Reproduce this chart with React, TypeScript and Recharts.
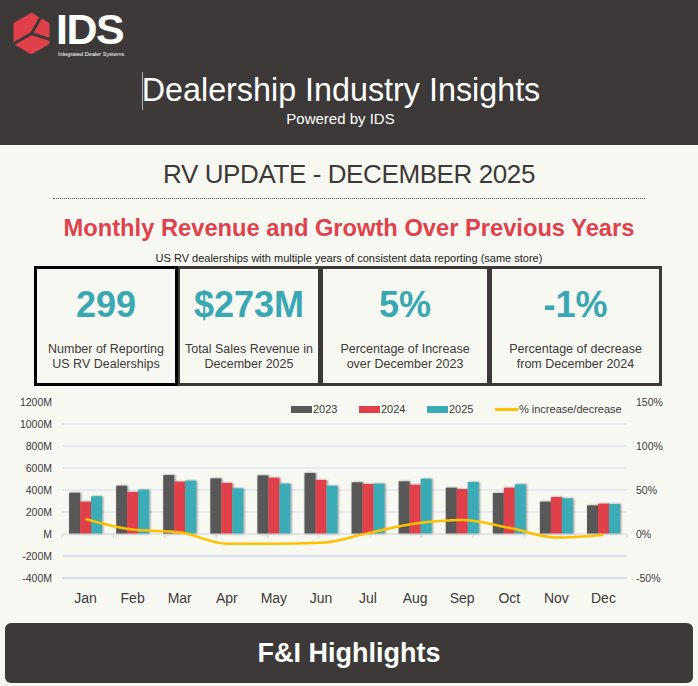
import React from 'react';
import {
  ComposedChart,
  Bar,
  Line,
  XAxis,
  YAxis,
  CartesianGrid,
  ReferenceLine,
  Legend,
} from 'recharts';

// ---------- data ----------
const months = ['Jan', 'Feb', 'Mar', 'Apr', 'May', 'Jun', 'Jul', 'Aug', 'Sep', 'Oct', 'Nov', 'Dec'];
const revenue2023 = [375, 439, 536, 506, 533, 555, 470, 479, 421, 373, 294, 260];
const revenue2024 = [294, 382, 476, 464, 512, 491, 455, 448, 409, 421, 336, 276];
const revenue2025 = [343, 403, 485, 415, 458, 439, 458, 503, 473, 452, 324, 273];
const pctChange = [17, 5, 2, -11, -11, -10, 1, 12, 16, 7, -4, -1];

const leftTicks = [-400, -200, 0, 200, 400, 600, 800, 1000, 1200];
const rightTicks = [-50, 0, 50, 100, 150];
const gridValues = [200, 400, 600, 800, 1000];
const negativeGridValues = [-200, -400];
const boundaryTicks = [0, 1, 2, 3, 4, 5, 6, 7, 8, 9, 10, 11, 12];

const seriesNames = ['2023', '2024', '2025', '% increase/decrease'];

const kpiValues = ['299', '$273M', '5%', '-1%'];
const kpiLabels = [
  ['Number of Reporting', 'US RV Dealerships'],
  ['Total Sales Revenue in', 'December 2025'],
  ['Percentage of Increase', 'over December 2023'],
  ['Percentage of decrease', 'from December 2024'],
];

const chartData = months.map((m, i) => ({
  month: m,
  y2023: revenue2023[i],
  y2024: revenue2024[i],
  y2025: revenue2025[i],
  pct: pctChange[i],
}));

// ---------- styles ----------
const FONT = '"Liberation Sans", Arial, sans-serif';
const DARK = '#3d3939';
const BG = '#f8f8f3';
const C2023 = '#595959';
const C2024 = '#e0404a';
const C2025 = '#3aabb5';
const CLINE = '#ffc000';
const TEAL = '#3aa8b2';

const ShadowBar = (p: any) => (
  <rect x={p.x} y={p.y} width={p.width} height={p.height} fill={p.fill} filter="url(#barShadow)" />
);

const LegendContent = (props: any) => {
  const payload = [...(props.payload || [])].sort(
    (a: any, b: any) => seriesNames.indexOf(a.value) - seriesNames.indexOf(b.value)
  );
  return (
    <div
      style={{
        display: 'flex',
        alignItems: 'center',
        fontFamily: FONT,
        fontSize: 11,
        color: DARK,
        whiteSpace: 'nowrap',
        lineHeight: '14px',
      }}
    >
      {payload.map((entry: any, i: number) => (
        <div
          key={entry.value}
          style={{ display: 'flex', alignItems: 'center', marginRight: i < payload.length - 1 ? 21.5 : 0 }}
        >
          {entry.type === 'line' ? (
            <span style={{ display: 'inline-block', width: 23, height: 3, background: entry.color }} />
          ) : (
            <span style={{ display: 'inline-block', width: 21, height: 7, background: entry.color }} />
          )}
          <span style={{ marginLeft: 1 }}>{entry.value}</span>
        </div>
      ))}
    </div>
  );
};

const LogoMark = () => {
  const cx = 31.5;
  const cy = 33.5;
  const r = 18.5;
  const pts = [-90, -30, 30, 90, 150, 210]
    .map((a) => {
      const rad = (a * Math.PI) / 180;
      return `${cx + r * Math.cos(rad)},${cy + r * Math.sin(rad)}`;
    })
    .join(' ');
  const gap = (a: number, len: number) => {
    const rad = (a * Math.PI) / 180;
    return { x2: cx + len * Math.cos(rad), y2: cy + len * Math.sin(rad) };
  };
  const g1 = gap(-60, 24);
  const g2 = gap(18, 24);
  const g3 = gap(150, 24);
  return (
    <svg width={60} height={62} style={{ position: 'absolute', left: 0, top: 0 }}>
      <polygon points={pts} fill="#e0404a" stroke="#e0404a" strokeWidth={4} strokeLinejoin="round" />
      <line x1={cx} y1={cy} {...g1} stroke={DARK} strokeWidth={3} />
      <line x1={cx} y1={cy} {...g2} stroke={DARK} strokeWidth={3} />
      <line x1={cx} y1={cy} {...g3} stroke={DARK} strokeWidth={3} />
    </svg>
  );
};

const abs = (s: React.CSSProperties): React.CSSProperties => ({ position: 'absolute', ...s });

export default function App() {
  const boxes = [
    { left: 320, width: 169, color: DARK },
    { left: 489, width: 172, color: DARK },
    { left: 177, width: 143, color: DARK },
    { left: 34, width: 143, color: '#000000' },
  ];
  const boxContentIdx = [2, 3, 1, 0];

  return (
    <div
      style={{
        position: 'absolute',
        left: 0,
        top: 0,
        width: 698,
        height: 686,
        background: BG,
        overflow: 'hidden',
        fontFamily: FONT,
        color: DARK,
      }}
    >
      {/* header */}
      <div style={abs({ left: 0, top: 0, width: 698, height: 145, background: DARK })} />
      <LogoMark />
      <div
        style={abs({
          left: 56,
          top: 12,
          height: 34,
          fontSize: 43,
          lineHeight: '34px',
          fontWeight: 700,
          letterSpacing: -1.5,
          color: '#ffffff',
          whiteSpace: 'nowrap',
          overflow: 'visible',
        })}
      >
        IDS
      </div>
      <div
        style={abs({
          left: 58,
          top: 51,
          height: 6,
          fontSize: 5.6,
          lineHeight: '6px',
          color: '#ffffff',
          whiteSpace: 'nowrap',
        })}
      >
        Integrated Dealer Systems
      </div>
      <div style={abs({ left: 142, top: 72, width: 1, height: 38, background: '#b0b0b0' })} />
      <div
        style={abs({
          left: 0,
          width: 682,
          top: 74,
          textAlign: 'center',
          fontSize: 32.3,
          lineHeight: '32px',
          color: '#ffffff',
          whiteSpace: 'nowrap',
        })}
      >
        Dealership Industry Insights
      </div>
      <div
        style={abs({
          left: 0,
          width: 681,
          top: 111,
          textAlign: 'center',
          fontSize: 15,
          lineHeight: '15px',
          color: '#ffffff',
        })}
      >
        Powered by IDS
      </div>

      {/* titles */}
      <div
        style={abs({
          left: 0,
          width: 698,
          top: 161,
          textAlign: 'center',
          fontSize: 26,
          lineHeight: '26px',
          letterSpacing: -0.4,
          color: DARK,
          whiteSpace: 'nowrap',
        })}
      >
        RV UPDATE - DECEMBER 2025
      </div>
      <div style={abs({ left: 53, top: 198, width: 592, height: 0, borderTop: '1px dotted #555' })} />
      <div
        style={abs({
          left: 0,
          width: 698,
          top: 216,
          textAlign: 'center',
          fontSize: 23.7,
          lineHeight: '24px',
          fontWeight: 700,
          color: '#e0414b',
          whiteSpace: 'nowrap',
        })}
      >
        Monthly Revenue and Growth Over Previous Years
      </div>
      <div
        style={abs({
          left: 0,
          width: 698,
          top: 252.5,
          textAlign: 'center',
          fontSize: 11,
          lineHeight: '11px',
          color: '#222',
          whiteSpace: 'nowrap',
        })}
      >
        US RV dealerships with multiple years of consistent data reporting (same store)
      </div>

      {/* KPI boxes */}
      {boxes.map((b, i) => {
        const k = boxContentIdx[i];
        return (
          <div
            key={k}
            style={abs({
              left: b.left,
              top: 266,
              width: b.width + 1,
              height: 120,
              border: `3px solid ${b.color}`,
              boxSizing: 'border-box',
              background: BG,
            })}
          >
            <div
              style={abs({
                left: 0,
                right: 0,
                top: 18,
                textAlign: 'center',
                fontSize: 36,
                lineHeight: '36px',
                fontWeight: 700,
                color: TEAL,
                whiteSpace: 'nowrap',
              })}
            >
              {kpiValues[k]}
            </div>
            <div
              style={abs({
                left: 0,
                right: 0,
                top: 73,
                textAlign: 'center',
                fontSize: 12.5,
                lineHeight: '14.5px',
                color: DARK,
                whiteSpace: 'nowrap',
              })}
            >
              {kpiLabels[k][0]}
              <br />
              {kpiLabels[k][1]}
            </div>
          </div>
        );
      })}

      {/* chart */}
      <div style={abs({ left: 0, top: 390, width: 698, height: 225 })}>
        <ComposedChart
          width={698}
          height={225}
          data={chartData}
          margin={{ top: 12, right: 0, bottom: 7, left: 0 }}
          barCategoryGap="15%"
          barGap={0}
        >
          <defs>
            <filter id="barShadow" x="-40%" y="-10%" width="180%" height="120%">
              <feDropShadow dx="1" dy="0" stdDeviation="1.2" floodColor="#000000" floodOpacity="0.45" />
            </filter>
          </defs>
          <CartesianGrid
            xAxisId="num"
            yAxisId="left"
            vertical={false}
            horizontalValues={gridValues}
            stroke="#d3ddf1"
            strokeWidth={1}
          />
          <XAxis
            xAxisId="cat"
            dataKey="month"
            axisLine={false}
            tickLine={false}
            tickSize={0}
            tickMargin={15}
            height={30}
            interval={0}
            tick={{ fontSize: 14, fill: DARK, fontFamily: FONT }}
          />
          <XAxis xAxisId="num" type="number" domain={[0, 12]} hide allowDataOverflow />
          <YAxis
            yAxisId="left"
            domain={[-400, 1200]}
            ticks={leftTicks}
            interval={0}
            axisLine={false}
            tickLine={false}
            tickSize={0}
            tickMargin={10}
            width={62}
            tickFormatter={(v: number) => (v === 0 ? 'M' : `${v}M`)}
            tick={{ fontSize: 10.5, fill: DARK, fontFamily: FONT }}
          />
          <YAxis
            yAxisId="right"
            orientation="right"
            domain={[-50, 150]}
            ticks={rightTicks}
            interval={0}
            axisLine={false}
            tickLine={false}
            tickSize={0}
            tickMargin={9}
            width={71}
            tickFormatter={(v: number) => `${v}%`}
            tick={{ fontSize: 10.5, fill: DARK, fontFamily: FONT }}
          />
          {negativeGridValues.map((v) => (
            <ReferenceLine key={v} xAxisId="num" yAxisId="left" y={v} stroke="#b4c7e7" strokeWidth={1} />
          ))}
          <ReferenceLine xAxisId="num" yAxisId="left" y={0} stroke="#d0d0d0" strokeWidth={1} />
          {boundaryTicks.map((b) => (
            <ReferenceLine
              key={`t${b}`}
              xAxisId="num"
              yAxisId="left"
              segment={[
                { x: b, y: 0 },
                { x: b, y: -36 },
              ]}
              stroke="#d0d0d0"
              strokeWidth={1}
            />
          ))}
          <Legend
            verticalAlign="middle"
            align="center"
            layout="horizontal"
            content={LegendContent}
            wrapperStyle={{ top: 12, left: 291, width: 'auto', height: 'auto' }}
          />
          <Bar xAxisId="cat" yAxisId="left" dataKey="y2023" name="2023" fill={C2023} shape={ShadowBar} isAnimationActive={false} />
          <Bar xAxisId="cat" yAxisId="left" dataKey="y2024" name="2024" fill={C2024} shape={ShadowBar} isAnimationActive={false} />
          <Bar xAxisId="cat" yAxisId="left" dataKey="y2025" name="2025" fill={C2025} shape={ShadowBar} isAnimationActive={false} />
          <Line
            xAxisId="cat"
            yAxisId="right"
            dataKey="pct"
            name="% increase/decrease"
            stroke={CLINE}
            strokeWidth={2.5}
            dot={false}
            activeDot={false}
            type="monotone"
            isAnimationActive={false}
          />
        </ComposedChart>
      </div>

      {/* bottom bar */}
      <div
        style={abs({
          left: 5,
          top: 623,
          width: 688,
          height: 60,
          background: DARK,
          borderRadius: 6,
          display: 'flex',
          alignItems: 'center',
          justifyContent: 'center',
          color: '#ffffff',
          fontSize: 27,
          fontWeight: 700,
        })}
      >
        F&amp;I Highlights
      </div>
    </div>
  );
}
